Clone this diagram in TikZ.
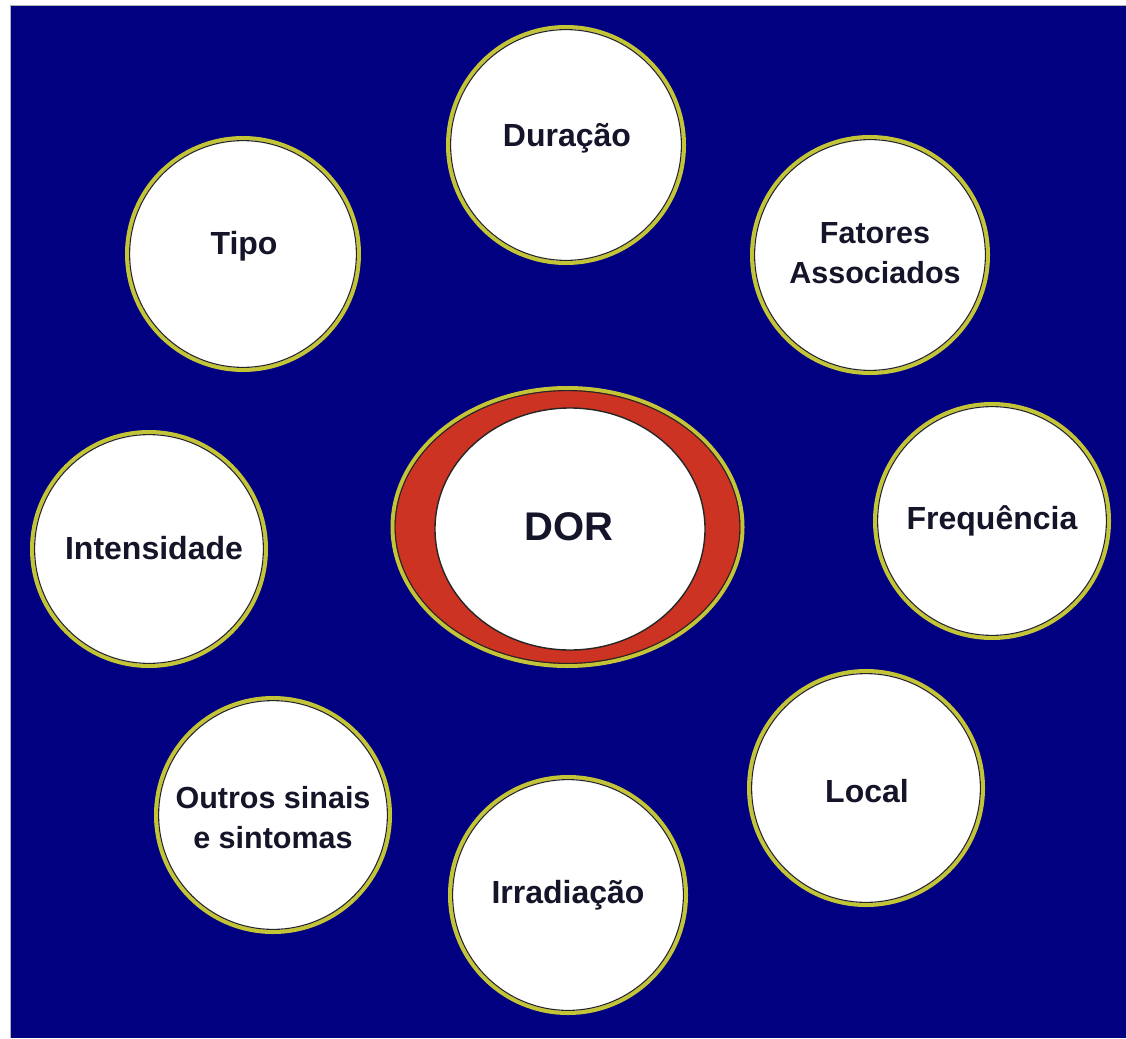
\documentclass[tikz,border=0pt]{standalone}
\usepackage{fontspec}
\setmainfont{Liberation Sans}
\begin{document}
\begin{tikzpicture}[x=1pt,y=-1pt,
  ring/.style={fill=white,draw=ringyellow,line width=4pt},
  inline/.style={draw=black!85,line width=1.1pt},
  lbl/.style={font=\bfseries\fontsize{32}{38}\selectfont,text=txtcol,align=center,inner sep=0pt},
  lbltwo/.style={font=\bfseries\fontsize{30.5}{40}\selectfont,text=txtcol,align=center,inner sep=0pt}]
\definecolor{navy}{HTML}{000080}
\definecolor{ringyellow}{HTML}{C4C437}
\definecolor{dorred}{HTML}{CC3322}
\definecolor{txtcol}{HTML}{15152A}
\useasboundingbox (0,0) rectangle (1126,1038);
\fill[white] (0,0) rectangle (1126,1038);
\fill[navy] (10,5) rectangle (1126,1038);
\draw[black!30,line width=0.8pt] (10.4,1038) -- (10.4,5.4) -- (1126,5.4);
% circles
\foreach \nm/\cx/\cy/\r in {dur/566/145/118, tipo/243/254/116, fat/870/255/118, freq/992/521/117, intn/149/549/117, outr/273/815/117, loc/866/788/117, irr/568/895/118}{
  \path[ring] (\cx,\cy) circle (\r);
  \draw[inline] (\cx,\cy) circle (\r-2.6);
}
% DOR
\path[fill=dorred,draw=ringyellow,line width=4pt] (567.5,527) ellipse (175 and 139);
\draw[inline] (567.5,527) ellipse (172.4 and 136.4);
\path[fill=white,draw=black!85,line width=1.4pt] (570,529) ellipse (135 and 121);
% labels
\node[lbl] (tDur) at (567,138) {Duração};
\node[lbl] (tTipo) at (244,246) {Tipo};
\node[lbltwo] (tFat) at (875,253) {Fatores\\Associados};
\node[lbl] (tFreq) at (992,521) {Frequência};
\node[lbl] (tInt) at (154,548) {Intensidade};
\node[font=\bfseries\fontsize{40}{46}\selectfont,text=txtcol,inner sep=0pt] (tDor) at (569,527) {DOR};
\node[lbltwo] (tOut) at (273,818) {Outros sinais\\e sintomas};
\node[lbl] (tLoc) at (867,791) {Local};
\node[lbl] (tIrr) at (568,895) {Irradiação};
\end{tikzpicture}
\end{document}
